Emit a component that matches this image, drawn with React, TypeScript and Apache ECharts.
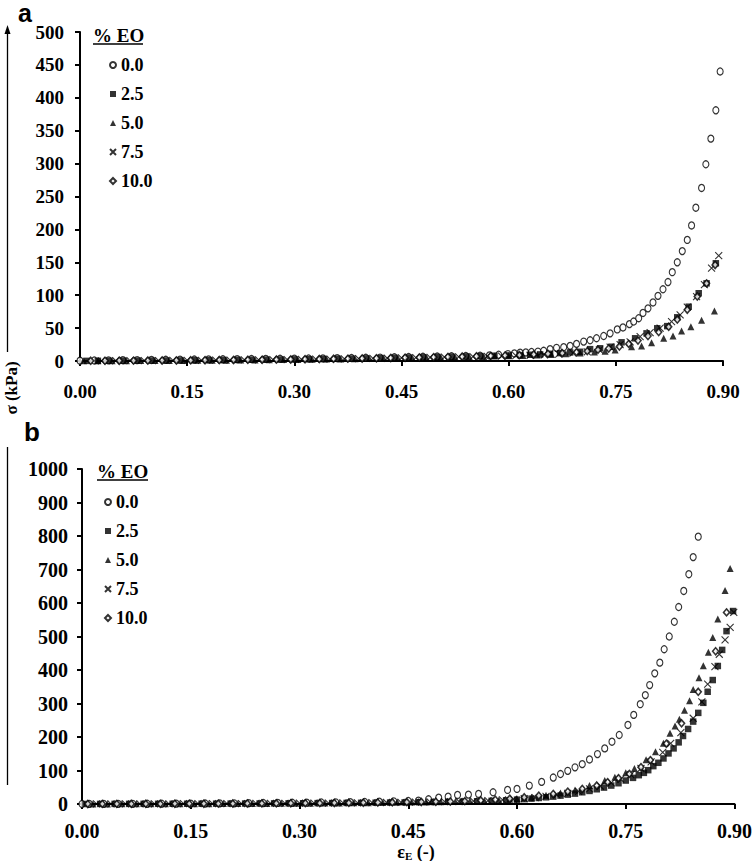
import React, { useEffect, useRef } from "react";
import * as echarts from "echarts";

// ---- categories / ticks ----
const EO_LEVELS = ["0.0", "2.5", "5.0", "7.5", "10.0"];
const STRAIN_MIN = 0;
const STRAIN_MAX = 0.9;
const STRAIN_STEP = 0.15;
const STRESS_A_MAX = 500;
const STRESS_A_STEP = 50;
const STRESS_B_MAX = 1000;
const STRESS_B_STEP = 100;

// ---- panel a : [strain, stress kPa] ----
const A_EO00 = [[0,0.5],[0.02,0.8],[0.04,1],[0.06,1.2],[0.08,1.4],[0.10,1.6],[0.12,1.8],[0.14,2],[0.16,2.2],[0.18,2.4],[0.20,2.6],[0.22,2.8],[0.24,3],[0.26,3.2],[0.28,3.4],[0.30,3.6],[0.32,3.8],[0.34,4],[0.36,4.3],[0.38,4.6],[0.40,4.9],[0.42,5.2],[0.44,5.6],[0.46,6],[0.48,6.4],[0.50,6.8],[0.52,7.2],[0.54,7.6],[0.56,8],[0.573,8.5],[0.586,9.5],[0.599,10.5],[0.608,11.5],[0.616,12.6],[0.624,13],[0.632,13.7],[0.641,14.3],[0.649,15.5],[0.658,18],[0.667,20],[0.677,21],[0.686,23],[0.695,26],[0.705,29.5],[0.714,31.5],[0.723,34.6],[0.733,38],[0.742,42],[0.752,48],[0.760,51],[0.769,56],[0.775,60],[0.782,65],[0.788,73],[0.795,80],[0.802,89],[0.809,99],[0.816,109],[0.823,120],[0.829,135],[0.836,150],[0.843,167],[0.850,184],[0.856,206],[0.862,233],[0.870,263],[0.876,299],[0.883,338],[0.890,381],[0.896,440]];
const A_EO25 = [[0.01,0.2],[0.025,0.3],[0.04,0.4],[0.06,0.5],[0.08,0.6],[0.10,0.7],[0.12,0.8],[0.14,0.9],[0.16,1.1],[0.18,1.3],[0.20,1.5],[0.22,1.7],[0.24,1.9],[0.26,2.1],[0.28,2.3],[0.30,2.5],[0.32,2.8],[0.34,3.1],[0.36,3.4],[0.38,3.7],[0.40,4],[0.42,4.4],[0.44,4.8],[0.46,5.2],[0.48,5.6],[0.50,6],[0.52,6.5],[0.54,7],[0.56,7.5],[0.58,8],[0.60,8.5],[0.616,9],[0.63,9.5],[0.644,10],[0.658,11],[0.672,12],[0.686,13],[0.700,14],[0.714,18],[0.728,19.3],[0.744,21.7],[0.758,28.4],[0.777,34.5],[0.793,42],[0.808,49.7],[0.822,53],[0.836,66.4],[0.852,82.5],[0.866,103],[0.877,118],[0.890,148.5]];
const A_EO50 = [[0.005,0.2],[0.025,0.3],[0.045,0.4],[0.065,0.5],[0.085,0.6],[0.105,0.7],[0.125,0.8],[0.145,0.9],[0.165,1.0],[0.185,1.1],[0.205,1.3],[0.225,1.5],[0.245,1.7],[0.265,1.9],[0.285,2.1],[0.305,2.3],[0.325,2.6],[0.345,2.9],[0.365,3.2],[0.385,3.5],[0.405,3.8],[0.425,4.2],[0.445,4.6],[0.465,5],[0.485,5.4],[0.505,5.8],[0.525,6.2],[0.545,6.6],[0.565,7],[0.58,7.5],[0.60,8],[0.62,8.5],[0.64,9],[0.66,10],[0.68,11],[0.70,12],[0.72,13.5],[0.735,15],[0.749,16.7],[0.772,21.7],[0.786,22.8],[0.800,27.8],[0.817,34.5],[0.830,38],[0.842,45.6],[0.855,52],[0.870,62],[0.888,76]];
const A_EO75 = [[0.03,0.3],[0.05,0.4],[0.07,0.5],[0.09,0.6],[0.11,0.7],[0.13,0.8],[0.15,0.9],[0.17,1.0],[0.19,1.2],[0.21,1.4],[0.23,1.6],[0.25,1.8],[0.27,2.0],[0.29,2.2],[0.31,2.4],[0.33,2.7],[0.35,3],[0.37,3.3],[0.39,3.6],[0.41,3.9],[0.43,4.2],[0.45,4.6],[0.47,5],[0.49,5.4],[0.51,5.8],[0.53,6.2],[0.55,6.6],[0.57,7],[0.59,7.5],[0.61,8],[0.63,8.5],[0.65,9.5],[0.67,10.5],[0.69,12],[0.71,14],[0.727,17],[0.742,21],[0.756,25],[0.770,29],[0.784,37],[0.798,43],[0.812,50],[0.828,60],[0.840,70],[0.850,82],[0.863,98],[0.874,116],[0.884,141],[0.894,160]];
const A_EO100 = [[0.015,0.3],[0.035,0.4],[0.055,0.5],[0.075,0.6],[0.095,0.7],[0.115,0.8],[0.135,0.9],[0.155,1.0],[0.175,1.2],[0.195,1.4],[0.215,1.6],[0.235,1.8],[0.255,2.0],[0.275,2.2],[0.295,2.4],[0.315,2.7],[0.335,3.0],[0.355,3.3],[0.375,3.6],[0.395,3.9],[0.415,4.2],[0.435,4.6],[0.455,5.0],[0.475,5.4],[0.495,5.8],[0.515,6.2],[0.535,6.7],[0.555,7.2],[0.575,7.8],[0.595,8.4],[0.615,9],[0.635,10],[0.655,11],[0.675,12],[0.695,13.5],[0.71,15],[0.725,17],[0.74,19],[0.755,22],[0.768,26],[0.781,31],[0.795,38],[0.81,44],[0.824,52],[0.836,63],[0.850,78],[0.864,98],[0.877,118],[0.889,146]];

// ---- panel b : [strain, stress kPa] ----
const B_EO00 = [[0,0],[0.01,0.2],[0.03,0.3],[0.05,0.4],[0.07,0.5],[0.09,0.6],[0.11,0.8],[0.13,1.0],[0.15,1.2],[0.17,1.4],[0.19,1.7],[0.21,2.0],[0.23,2.4],[0.25,2.8],[0.27,3.2],[0.29,3.6],[0.31,4],[0.33,4.5],[0.35,5],[0.37,5.5],[0.39,6],[0.41,7],[0.43,8],[0.45,9],[0.464,10],[0.478,14],[0.492,19],[0.505,22],[0.518,27],[0.533,28],[0.547,30],[0.567,35],[0.587,42],[0.600,45],[0.617,55],[0.634,66],[0.650,79],[0.660,89.5],[0.670,99],[0.680,109.5],[0.690,119],[0.700,133],[0.711,149],[0.721,166],[0.731,186],[0.741,206],[0.753,236],[0.761,266],[0.770,298],[0.777,325],[0.783,355],[0.790,390],[0.797,422],[0.803,462],[0.810,500],[0.817,544],[0.823,588],[0.830,636],[0.837,686],[0.843,737],[0.850,798]];
const B_EO25 = [[0.005,0],[0.025,0.2],[0.045,0.3],[0.065,0.4],[0.085,0.5],[0.105,0.6],[0.125,0.7],[0.145,0.8],[0.165,0.9],[0.185,1.0],[0.205,1.2],[0.225,1.4],[0.245,1.6],[0.265,1.8],[0.285,2.0],[0.305,2.3],[0.325,2.6],[0.345,2.9],[0.365,3.2],[0.385,3.5],[0.405,3.9],[0.425,4.3],[0.445,4.7],[0.465,5.2],[0.485,5.8],[0.505,6.5],[0.525,7.3],[0.545,8.2],[0.565,9.5],[0.585,11],[0.60,13],[0.61,14.5],[0.62,16],[0.63,18],[0.64,20],[0.65,22],[0.66,25],[0.67,28],[0.68,31],[0.69,35],[0.70,39],[0.71,44],[0.72,49],[0.73,55],[0.74,62],[0.75,70],[0.76,78],[0.768,86],[0.775,93],[0.781,101],[0.788,113],[0.795,123],[0.802,136],[0.809,151],[0.816,166],[0.823,184],[0.829,203],[0.836,224],[0.843,246],[0.850,272],[0.857,302],[0.863,335],[0.870,370],[0.877,412],[0.883,460],[0.889,516],[0.898,576]];
const B_EO50 = [[0.015,0.2],[0.035,0.3],[0.055,0.4],[0.075,0.5],[0.095,0.6],[0.115,0.7],[0.135,0.8],[0.155,0.9],[0.175,1.0],[0.195,1.2],[0.215,1.4],[0.235,1.6],[0.255,1.8],[0.275,2.0],[0.295,2.3],[0.315,2.6],[0.335,2.9],[0.355,3.2],[0.375,3.6],[0.395,4.0],[0.415,4.5],[0.435,5.0],[0.455,5.6],[0.475,6.2],[0.495,6.8],[0.515,7.6],[0.535,8.6],[0.555,10],[0.575,12],[0.59,14],[0.60,16],[0.62,20],[0.64,26],[0.66,33],[0.68,42],[0.70,55],[0.721,70],[0.735,80],[0.750,93],[0.762,106],[0.778,132],[0.791,156],[0.802,181],[0.811,211],[0.818,233],[0.824,253],[0.831,280],[0.838,308],[0.843,342],[0.851,377],[0.857,413],[0.864,453],[0.870,497],[0.877,552],[0.887,637],[0.894,703]];
const B_EO75 = [[0.02,0.2],[0.04,0.3],[0.06,0.4],[0.08,0.5],[0.10,0.6],[0.12,0.7],[0.14,0.8],[0.16,0.9],[0.18,1.0],[0.20,1.2],[0.22,1.4],[0.24,1.6],[0.26,1.8],[0.28,2.0],[0.30,2.3],[0.32,2.6],[0.34,2.9],[0.36,3.2],[0.38,3.6],[0.40,4.0],[0.42,4.5],[0.44,5.0],[0.46,5.6],[0.48,6.2],[0.50,6.8],[0.52,7.5],[0.54,8.5],[0.56,10],[0.58,12],[0.595,14],[0.61,16],[0.625,19],[0.64,23],[0.655,27],[0.67,32],[0.685,38],[0.70,45],[0.715,53],[0.73,63],[0.743,74],[0.757,88],[0.771,106],[0.785,126],[0.801,154],[0.812,181],[0.826,213],[0.843,256],[0.855,305],[0.863,358],[0.873,410],[0.879,447],[0.887,490],[0.894,527],[0.899,572]];
const B_EO100 = [[0.008,0.2],[0.028,0.3],[0.048,0.4],[0.068,0.5],[0.088,0.6],[0.108,0.7],[0.128,0.8],[0.148,0.9],[0.168,1.0],[0.188,1.2],[0.208,1.4],[0.228,1.6],[0.248,1.8],[0.268,2.0],[0.288,2.3],[0.308,2.6],[0.328,2.9],[0.348,3.2],[0.368,3.6],[0.388,4.0],[0.408,4.5],[0.428,5.0],[0.448,5.6],[0.468,6.2],[0.488,6.8],[0.508,7.5],[0.528,8.5],[0.55,11],[0.57,13],[0.59,16],[0.61,20],[0.63,25],[0.65,30],[0.67,37],[0.69,45],[0.71,55],[0.725,65],[0.74,77],[0.755,90],[0.771,110],[0.784,131],[0.806,180],[0.827,241],[0.850,335],[0.874,456],[0.889,572]];

const FONT = "'Liberation Serif', 'Times New Roman', serif";

const CROSS = "path://M0,0L10,10M10,0L0,10";

const STYLES = [
  { symbol: "circle", symbolSize: [6, 7], itemStyle: { color: "#fff", borderColor: "#000", borderWidth: 1.2 } },
  { symbol: "rect", symbolSize: 6.5, itemStyle: { color: "#000" } },
  { symbol: "triangle", symbolSize: 7, itemStyle: { color: "#000" } },
  { symbol: CROSS, symbolSize: 7, itemStyle: { color: "rgba(0,0,0,0)", borderColor: "#000", borderWidth: 1.1 } },
  { symbol: "diamond", symbolSize: [6, 7], itemStyle: { color: "#fff", borderColor: "#000", borderWidth: 1.6 } },
];

export default function App() {
  const ref = useRef<HTMLDivElement>(null);
  useEffect(() => {
    if (!ref.current) return;
    const chart = echarts.init(ref.current, null, { renderer: "svg" });
    const panelA = [A_EO00, A_EO25, A_EO50, A_EO75, A_EO100];
    const panelB = [B_EO00, B_EO25, B_EO50, B_EO75, B_EO100];

    const xAxisBase = (fontSize: number, margin: number) => ({
      type: "value",
      min: STRAIN_MIN,
      max: STRAIN_MAX,
      interval: STRAIN_STEP,
      axisLine: { show: true, onZero: false, lineStyle: { color: "#000", width: 2 } },
      axisTick: { show: true, length: 5, lineStyle: { color: "#000", width: 2 } },
      axisLabel: {
        color: "#000",
        fontFamily: FONT,
        fontWeight: "bold",
        fontSize,
        margin,
        formatter: (v: number) => v.toFixed(2),
      },
      splitLine: { show: false },
    });
    const yAxisBase = (max: number, step: number, fontSize: number, margin: number) => ({
      type: "value",
      min: 0,
      max,
      interval: step,
      axisLine: { show: true, lineStyle: { color: "#000", width: 2 } },
      axisTick: { show: true, length: 5, lineStyle: { color: "#000", width: 2 } },
      axisLabel: { color: "#000", fontFamily: FONT, fontWeight: "bold", fontSize, margin, formatter: (v: number) => String(v) },
      splitLine: { show: false },
    });

    const series: any[] = [];
    panelA.forEach((d, i) =>
      series.push({ type: "scatter", name: EO_LEVELS[i], xAxisIndex: 0, yAxisIndex: 0, data: d, ...STYLES[i], z: 2 + i, silent: true })
    );
    panelB.forEach((d, i) =>
      series.push({ type: "scatter", name: EO_LEVELS[i], xAxisIndex: 1, yAxisIndex: 1, data: d, ...STYLES[i], z: 2 + i, silent: true })
    );

    const legendBase = (left: number, top: number) => ({
      data: EO_LEVELS,
      orient: "vertical",
      left,
      top,
      itemWidth: 6,
      itemHeight: 6,
      itemGap: 9,
      selectedMode: false,
      textStyle: { color: "#000", fontFamily: FONT, fontWeight: "bold", fontSize: 18, lineHeight: 20 },
    });

    chart.setOption({
      animation: false,
      backgroundColor: "#fff",
      grid: [
        { left: 80, top: 32, width: 643, height: 329 },
        { left: 82, top: 469, width: 655, height: 335 },
      ],
      xAxis: [
        { ...xAxisBase(19, 21), gridIndex: 0 },
        { ...xAxisBase(20, 17), gridIndex: 1 },
      ],
      yAxis: [
        { ...yAxisBase(STRESS_A_MAX, STRESS_A_STEP, 19, 16), gridIndex: 0 },
        { ...yAxisBase(STRESS_B_MAX, STRESS_B_STEP, 20, 14), gridIndex: 1 },
      ],
      legend: [legendBase(104, 50), legendBase(99, 487)],
      series,
      graphic: [
        { type: "text", left: 18, top: 0, style: { text: "a", font: "bold 25px 'Liberation Sans', Arial, sans-serif", fill: "#000" } },
        { type: "text", left: 24, top: 419, style: { text: "b", font: "bold 26px 'Liberation Sans', Arial, sans-serif", fill: "#000" } },
        { type: "text", x: 93, y: 35, style: { text: "% EO", font: `bold 19px ${FONT}`, fill: "#000", textVerticalAlign: "middle" } },
        { type: "line", shape: { x1: 93, y1: 44, x2: 143, y2: 44 }, style: { stroke: "#000", lineWidth: 1.5 } },
        { type: "text", x: 97, y: 471, style: { text: "% EO", font: `bold 19px ${FONT}`, fill: "#000", textVerticalAlign: "middle" } },
        { type: "line", shape: { x1: 97, y1: 480, x2: 148, y2: 480 }, style: { stroke: "#000", lineWidth: 1.5 } },
        // y-axis title with arrow
        { type: "line", shape: { x1: 7.5, y1: 32, x2: 7.5, y2: 352 }, style: { stroke: "#000", lineWidth: 1.3 } },
        { type: "polygon", shape: { points: [[7.5, 25], [4.5, 34], [10.5, 34]] }, style: { fill: "#000" } },
        { type: "line", shape: { x1: 7.5, y1: 447, x2: 7.5, y2: 785 }, style: { stroke: "#000", lineWidth: 1.3 } },
        {
          type: "text",
          x: 11,
          y: 388,
          rotation: Math.PI / 2,
          style: { text: "σ (kPa)", font: `bold 17px ${FONT}`, fill: "#000", textAlign: "center", textVerticalAlign: "middle" },
        },
        {
          type: "text",
          x: 416,
          y: 852,
          style: {
            text: "ε{s|E} (-)",
            font: `bold 18px ${FONT}`,
            fill: "#000",
            textAlign: "center",
            textVerticalAlign: "middle",
            rich: { s: { fontSize: 11, fontFamily: FONT, fontWeight: "bold", verticalAlign: "bottom", padding: [8, 0, 0, 0] } },
          },
        },
      ],
    });
    return () => chart.dispose();
  }, []);
  return <div ref={ref} style={{ position: "absolute", left: 0, top: 0, width: 755, height: 861 }} />;
}
